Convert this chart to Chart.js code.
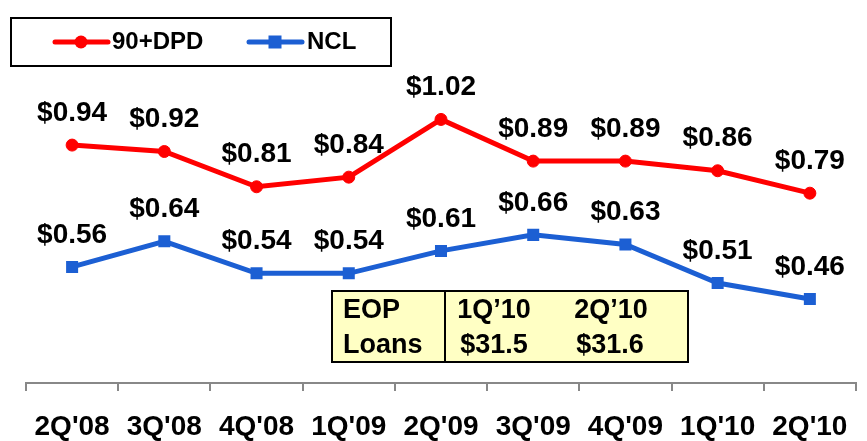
<!DOCTYPE html>
<html>
<head>
<meta charset="utf-8">
<script src="https://cdn.jsdelivr.net/npm/chart.js@4.4.1/dist/chart.umd.min.js"></script>
<style>
  body { margin: 0; background: #fff; }
  canvas { display: block; }
</style>
</head>
<body>
<canvas id="lossChart" width="867" height="441"></canvas>
<script>
// quarters on the x axis
var quarters = ["2Q'08", "3Q'08", "4Q'08", "1Q'09", "2Q'09", "3Q'09", "4Q'09", "1Q'10", "2Q'10"];
// series values ($)
var dpd90 = [0.94, 0.92, 0.81, 0.84, 1.02, 0.89, 0.89, 0.86, 0.79];
var ncl = [0.56, 0.64, 0.54, 0.54, 0.61, 0.66, 0.63, 0.51, 0.46];
var seriesNames = ['90+DPD', 'NCL'];
// EOP loans box
var loanHeader = ['EOP', '1Q\u201910', '2Q\u201910'];
var loanRow = ['Loans', '$31.5', '$31.6'];

var RED = '#ff0000';
var BLUE = '#1c5fd3';
var FONT = '"Liberation Sans", Arial, sans-serif';

// value labels above each point
var valueLabels = {
    id: 'valueLabels',
    afterDatasetsDraw: function (chart) {
        var ctx = chart.ctx;
        ctx.save();
        ctx.font = 'bold 28px ' + FONT;
        ctx.fillStyle = '#000';
        ctx.textAlign = 'center';
        ctx.textBaseline = 'middle';
        chart.data.datasets.forEach(function (ds, i) {
            var meta = chart.getDatasetMeta(i);
            meta.data.forEach(function (pt, j) {
                ctx.fillText('$' + ds.data[j].toFixed(2), pt.x, pt.y - 32);
            });
        });
        ctx.restore();
    }
};

// boxed legend with line + marker samples
var boxLegend = {
    id: 'boxLegend',
    afterDraw: function (chart) {
        var ctx = chart.ctx;
        ctx.save();
        ctx.lineWidth = 2;
        ctx.strokeStyle = '#000';
        ctx.strokeRect(11, 18, 380, 48);

        ctx.lineCap = 'round';
        ctx.lineWidth = 5;
        // 90+DPD sample
        ctx.strokeStyle = RED;
        ctx.beginPath(); ctx.moveTo(55, 42); ctx.lineTo(108, 42); ctx.stroke();
        ctx.fillStyle = RED;
        ctx.beginPath(); ctx.arc(81, 42, 6.5, 0, Math.PI * 2); ctx.fill();
        // NCL sample
        ctx.strokeStyle = BLUE;
        ctx.beginPath(); ctx.moveTo(249, 42); ctx.lineTo(302, 42); ctx.stroke();
        ctx.fillStyle = BLUE;
        ctx.fillRect(268.5, 35.5, 13, 13);

        ctx.fillStyle = '#000';
        ctx.font = 'bold 24px ' + FONT;
        ctx.textBaseline = 'middle';
        ctx.textAlign = 'left';
        ctx.fillText(seriesNames[0], 112, 42);
        ctx.fillText(seriesNames[1], 307, 42);
        ctx.restore();
    }
};

// EOP loans table
var loanBox = {
    id: 'loanBox',
    afterDraw: function (chart) {
        var ctx = chart.ctx;
        ctx.save();
        ctx.fillStyle = '#ffffc4';
        ctx.fillRect(332, 291, 356, 71);
        ctx.lineWidth = 2;
        ctx.strokeStyle = '#000';
        ctx.strokeRect(332, 291, 356, 71);
        ctx.beginPath(); ctx.moveTo(445, 291); ctx.lineTo(445, 362); ctx.stroke();

        ctx.fillStyle = '#000';
        ctx.font = 'bold 27px ' + FONT;
        ctx.textBaseline = 'alphabetic';
        ctx.textAlign = 'left';
        ctx.fillText(loanHeader[0], 343, 318);
        ctx.fillText(loanRow[0], 343, 353);
        ctx.textAlign = 'center';
        ctx.fillText(loanHeader[1], 494, 318);
        ctx.fillText(loanHeader[2], 611, 318);
        ctx.fillText(loanRow[1], 494, 353);
        ctx.fillText(loanRow[2], 610, 353);
        ctx.restore();
    }
};

var ctx = document.getElementById('lossChart');
var lossChart = new Chart(ctx, {
    type: 'line',
    data: {
        labels: quarters,
        datasets: [{
            label: seriesNames[0],
            data: dpd90,
            borderColor: RED,
            backgroundColor: RED,
            borderWidth: 5,
            pointStyle: 'circle',
            pointRadius: 6,
            pointBorderWidth: 1,
            tension: 0
        }, {
            label: seriesNames[1],
            data: ncl,
            borderColor: BLUE,
            backgroundColor: BLUE,
            borderWidth: 5,
            pointStyle: 'rect',
            pointRadius: 8.5,
            pointBorderWidth: 0,
            tension: 0
        }]
    },
    options: {
        responsive: false,
        animation: false,
        layout: { padding: { left: 26, right: 10, top: 0, bottom: 0 } },
        plugins: {
            legend: { display: false },
            tooltip: { enabled: false }
        },
        scales: {
            x: {
                offset: true,
                afterFit: function (scale) { scale.height = 58; },
                grid: {
                    offset: true,
                    drawOnChartArea: false,
                    tickLength: 8,
                    color: '#888',
                    lineWidth: 2
                },
                border: { color: '#888', width: 2 },
                ticks: {
                    color: '#000',
                    padding: 19,
                    maxRotation: 0,
                    autoSkip: false,
                    font: { family: FONT, size: 28, weight: 'bold' }
                }
            },
            y: {
                display: false,
                min: 0.198,
                max: 1.366
            }
        }
    },
    plugins: [valueLabels, boxLegend, loanBox]
});
</script>
</body>
</html>
